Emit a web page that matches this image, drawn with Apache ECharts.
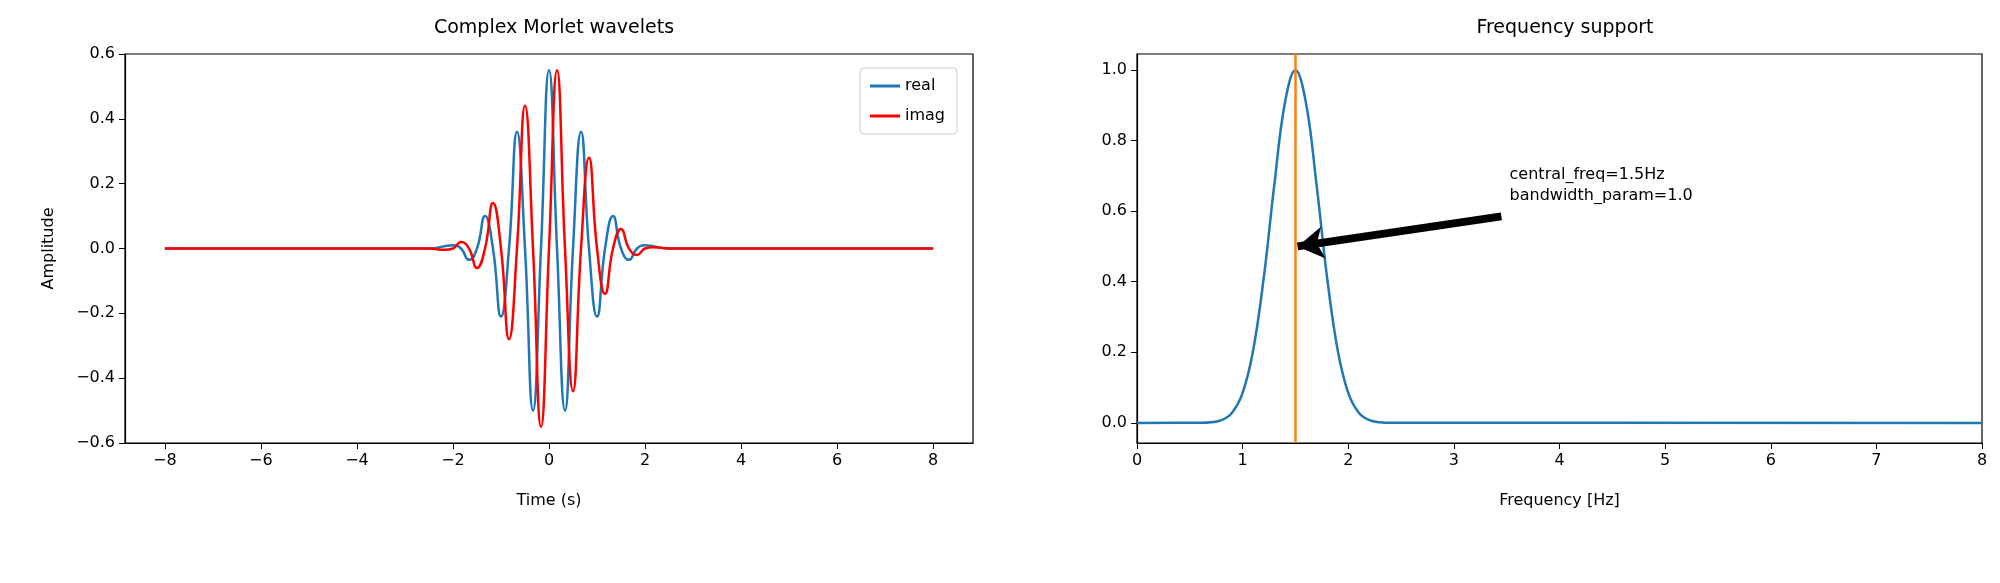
<!DOCTYPE html>
<html>
<head>
<meta charset="utf-8">
<script src="https://cdn.jsdelivr.net/npm/echarts@6/dist/echarts.min.js"></script>
<style>html,body{margin:0;padding:0;background:#fff}#c{width:2000px;height:583px}</style>
</head>
<body>
<div id="c"></div>
<script>
// values
var realT = [-8, -2.5, -2.0, -1.833, -1.667, -1.5, -1.333, -1.167, -1.0, -0.833, -0.667, -0.5, -0.333, -0.167, 0, 0.167, 0.333, 0.5, 0.667, 0.833, 1.0, 1.167, 1.333, 1.5, 1.667, 1.833, 2.0, 2.5, 8];
var realV = [0, 0, 0.01, 0, -0.035, 0, 0.10, 0, -0.21, 0, 0.36, 0, -0.50, 0, 0.55, 0, -0.50, 0, 0.36, 0, -0.21, 0, 0.10, 0, -0.035, 0, 0.01, 0, 0];
var imagT = [-8, -2.5, -2.167, -2.0, -1.833, -1.667, -1.5, -1.333, -1.167, -1.0, -0.833, -0.667, -0.5, -0.333, -0.167, 0, 0.167, 0.333, 0.5, 0.667, 0.833, 1.0, 1.167, 1.333, 1.5, 1.667, 1.833, 2.0, 2.167, 2.5, 8];
var imagV = [0, 0, -0.004, 0, 0.02, 0, -0.06, 0, 0.14, 0, -0.28, 0, 0.44, 0, -0.55, 0, 0.55, 0, -0.44, 0, 0.28, 0, -0.14, 0, 0.06, 0, -0.02, 0, 0.004, 0, 0];
var freqF = [0, 0.6, 0.7, 0.8, 0.9, 1.0, 1.1, 1.2, 1.3, 1.4, 1.5, 1.6, 1.7, 1.8, 1.9, 2.0, 2.1, 2.2, 2.3, 2.4, 8];
var freqV = [0, 0.0005, 0.002, 0.008, 0.029, 0.085, 0.206, 0.411, 0.674, 0.906, 1.0, 0.906, 0.674, 0.411, 0.206, 0.085, 0.029, 0.008, 0.002, 0.0005, 0];
var timeTicks = [-8, -6, -4, -2, 0, 2, 4, 6, 8];
var ampTicks = [-0.6, -0.4, -0.2, 0, 0.2, 0.4, 0.6];
var freqTicks = [0, 1, 2, 3, 4, 5, 6, 7, 8];
var supTicks = [0, 0.2, 0.4, 0.6, 0.8, 1.0];
var centralFreq = 1.5;

function pairs(xs, ys){
	var out = [];
	for(var i=0;i<xs.length;i++){ out.push([xs[i], ys[i]]); }
	return out;
}
function fmt1(v){ return v.toFixed(1).replace('-', '\u2212'); }
function fmt0(v){ return String(v).replace('-', '\u2212'); }

var font = 'DejaVu Sans';
var tickLabel = {color:'#000', fontSize:16, fontFamily:font, margin:10};
var tick = {show:true, inside:false, length:6, lineStyle:{color:'#000'}};
var line = {show:true, onZero:false, lineStyle:{color:'#000', width:1.2}};

var chart = echarts.init(document.getElementById('c'));
chart.setOption({
	backgroundColor:'#fff',
	animation:false,
	title:[
		{text:'Complex Morlet wavelets', left:549, top:14, textAlign:'center', textStyle:{fontSize:19, fontWeight:'normal', fontFamily:font, color:'#000'}},
		{text:'Frequency support', left:1560, top:14, textAlign:'center', textStyle:{fontSize:19, fontWeight:'normal', fontFamily:font, color:'#000'}}
	],
	legend:{
		data:['real','imag'], orient:'vertical', right:1043, top:68,
		icon:'rect', itemWidth:30, itemHeight:3, itemGap:14,
		padding:[10,12,10,10], borderColor:'#ccc', borderWidth:1, borderRadius:4,
		textStyle:{fontSize:16, fontFamily:font, color:'#000'}
	},
	grid:[
		{left:125, right:1027, top:54, bottom:140, show:true, borderColor:'#000', borderWidth:1.2},
		{left:1137, right:18, top:54, bottom:140, show:true, borderColor:'#000', borderWidth:1.2}
	],
	xAxis:[
		{gridIndex:0, type:'value', min:-8.83, max:8.83, name:'Time (s)', nameLocation:'middle', nameGap:50,
		 nameTextStyle:{fontSize:16, fontFamily:font, color:'#000'}, splitLine:{show:false}, axisLine:line,
		 axisTick:Object.assign({customValues:timeTicks}, tick), axisLabel:Object.assign({customValues:timeTicks, formatter:fmt0}, tickLabel)},
		{gridIndex:1, type:'value', min:0, max:8, name:'Frequency [Hz]', nameLocation:'middle', nameGap:50,
		 nameTextStyle:{fontSize:16, fontFamily:font, color:'#000'}, splitLine:{show:false}, axisLine:line,
		 axisTick:Object.assign({customValues:freqTicks}, tick), axisLabel:Object.assign({customValues:freqTicks, formatter:fmt0}, tickLabel)}
	],
	yAxis:[
		{gridIndex:0, type:'value', min:-0.6, max:0.6, name:'Amplitude', nameLocation:'middle', nameGap:68, nameRotate:90,
		 nameTextStyle:{fontSize:16, fontFamily:font, color:'#000'}, splitLine:{show:false}, axisLine:line,
		 axisTick:Object.assign({customValues:ampTicks}, tick), axisLabel:Object.assign({customValues:ampTicks, formatter:fmt1}, tickLabel)},
		{gridIndex:1, type:'value', min:-0.057, max:1.045, splitLine:{show:false}, axisLine:line,
		 axisTick:Object.assign({customValues:supTicks}, tick), axisLabel:Object.assign({customValues:supTicks, formatter:fmt1}, tickLabel)}
	],
	series:[
		{name:'real', type:'line', xAxisIndex:0, yAxisIndex:0, data:pairs(realT, realV), smooth:0.5,
		 showSymbol:false, color:'#1f77b4', lineStyle:{width:2.5}},
		{name:'imag', type:'line', xAxisIndex:0, yAxisIndex:0, data:pairs(imagT, imagV), smooth:0.5,
		 showSymbol:false, color:'#ff0000', lineStyle:{width:2.5}},
		{name:'support', type:'line', xAxisIndex:1, yAxisIndex:1, data:pairs(freqF, freqV), smooth:0.4,
		 showSymbol:false, color:'#1f77b4', lineStyle:{width:2.5},
		 markLine:{silent:true, animation:false, label:{show:false},
			data:[
				[{coord:[centralFreq, -0.057], symbol:'none'}, {coord:[centralFreq, 1.045], symbol:'none', lineStyle:{color:'#ff7f0e', width:2.5, type:'solid'}}],
				[{coord:[3.45, 0.585], symbol:'none'}, {coord:[centralFreq+0.02, 0.5], symbol:'arrow', symbolSize:[24,26], lineStyle:{color:'#000', width:8, type:'solid'}}]
			]},
		 markPoint:{silent:true, symbol:'circle', symbolSize:0,
			data:[{coord:[3.48, 0.6], label:{show:true, position:'insideBottomLeft', offset:[0,0],
				formatter:'central_freq=1.5Hz\nbandwidth_param=1.0', align:'left', verticalAlign:'bottom',
				fontSize:16, lineHeight:21, fontFamily:font, color:'#000'}}]}
		}
	]
});
</script>
</body>
</html>
